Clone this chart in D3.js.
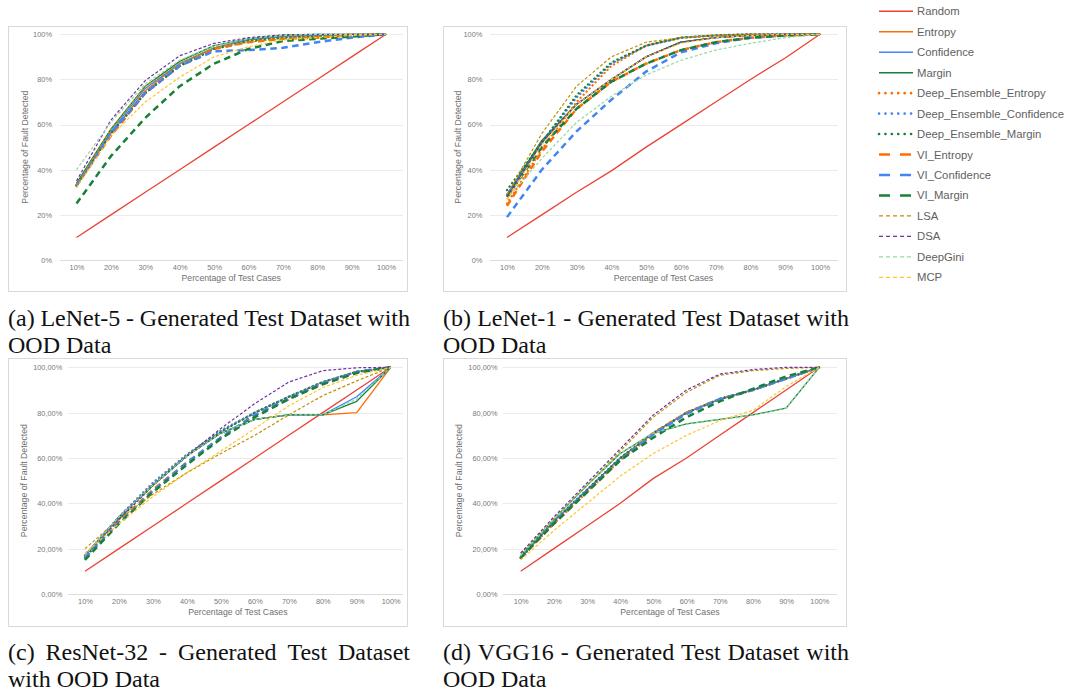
<!DOCTYPE html>
<html>
<head>
<meta charset="utf-8">
<script src="https://cdn.jsdelivr.net/npm/d3@7"></script>
<style>
  body { margin: 0; background: #fff; }
  svg { display: block; font-family: "Liberation Sans", Arial, sans-serif; }
</style>
</head>
<body>
<svg id="fig" width="1073" height="692"></svg>
<script>
// ---- data ----
const categories = ["10%", "20%", "30%", "40%", "50%", "60%", "70%", "80%", "90%", "100%"];
const seriesNames = ["Random", "Entropy", "Confidence", "Margin",
  "Deep_Ensemble_Entropy", "Deep_Ensemble_Confidence", "Deep_Ensemble_Margin",
  "VI_Entropy", "VI_Confidence", "VI_Margin", "LSA", "DSA", "DeepGini", "MCP"];
const yTickValues = [0, 20, 40, 60, 80, 100];
const pctTicks = ["0%", "20%", "40%", "60%", "80%", "100%"];
const pctCommaTicks = ["0,00%", "20,00%", "40,00%", "60,00%", "80,00%", "100,00%"];

// one row per series, same order as seriesNames
const lenet5 = [
  [10, 20, 30, 40, 50, 60, 70, 80, 90, 100],
  [33, 56, 75, 87, 94, 97.5, 99, 99.5, 100, 100],
  [33, 57, 76, 87, 94, 97.5, 99, 99.5, 100, 100],
  [34, 58, 77, 88, 95, 98, 99.5, 100, 100, 100],
  [33, 56, 74, 86, 93.5, 97, 98.5, 99, 99.5, 100],
  [33, 56, 74, 86, 93.5, 97, 98.5, 99, 99.5, 100],
  [33, 56, 74, 86, 93.5, 97, 98.5, 99, 99.5, 100],
  [33, 55, 74, 86, 93.5, 96.5, 98, 98.5, 99.5, 100],
  [33, 56, 74, 86, 92.5, 93, 94, 96.5, 98.5, 100],
  [25, 46, 63, 77, 87, 93.5, 97, 98, 99, 100],
  [33, 58, 77, 87, 94, 96.5, 98, 99, 99.5, 100],
  [35, 62, 79.5, 90.5, 96, 98.5, 99.8, 100, 100, 100],
  [40, 61, 78, 88.5, 95, 98, 99.5, 100, 100, 100],
  [32, 55, 70, 81, 90, 94.5, 97.5, 98.5, 99.5, 100]
];
const lenet1 = [
  [10, 20, 30, 39.5, 50, 60, 70, 80, 89.5, 100],
  [27, 52, 69, 80, 90, 96.5, 98.5, 99.5, 100, 100],
  [28, 52, 69, 80, 90, 96.5, 98.5, 99.5, 100, 100],
  [29, 53, 69, 80, 90, 96.5, 98.5, 99.5, 100, 100],
  [25, 49, 70, 86, 95, 98.5, 99.5, 100, 100, 100],
  [29, 52, 72, 87, 95, 98.5, 99.5, 100, 100, 100],
  [31, 52, 73, 87.5, 95, 98.5, 99.5, 100, 100, 100],
  [24, 48, 67, 79, 87, 93, 96.5, 98.5, 99.5, 100],
  [19, 40, 57, 71, 83.5, 92, 96, 98.5, 99.5, 100],
  [28, 50, 67, 79, 87, 93, 96.5, 98.5, 99.5, 100],
  [29, 56, 77, 90, 96.5, 98.5, 99.5, 100, 100, 100],
  [28, 52, 69, 80, 90, 96.5, 98.5, 99.5, 100, 100],
  [27, 45, 61, 72.5, 82, 88.5, 93, 96, 98.5, 100],
  [27, 51, 69, 80, 90, 96, 98.5, 99.5, 100, 100]
];
const resnet32 = [
  [10, 20, 30, 40, 50, 60, 70, 80, 90, 100],
  [17, 34, 48, 61, 71, 77, 79, 79, 80, 100],
  [17, 34, 48, 61, 71, 77, 79, 79, 87, 100],
  [17, 34, 48, 61, 71, 77, 79, 79, 85, 100],
  [17, 34, 49, 61.5, 72, 80, 87, 93.5, 98, 100],
  [17, 34, 49, 61.5, 72, 80, 87, 93.5, 98, 100],
  [16, 33, 48, 61, 71.5, 80, 87, 93.5, 98, 100],
  [16, 32, 46, 58, 69, 79, 86, 93, 98, 100],
  [16, 31.5, 45.5, 58, 69, 79, 86, 93, 98, 100],
  [15, 31, 45, 57, 68.5, 78, 86, 92.5, 97.5, 100],
  [20, 33, 44, 53.5, 62, 70, 79, 87.5, 94, 100],
  [17, 33, 48, 61, 73, 84, 93.5, 98.5, 99.8, 100],
  [17, 34, 48, 61, 71, 77, 79, 79, 86, 100],
  [18, 31, 43, 53.5, 63, 73, 83, 91, 96.5, 100]
];
const vgg16 = [
  [10, 20, 30, 40, 51, 60, 70, 80, 90, 100],
  [16, 32, 46, 60, 71, 80, 86, 90, 95, 100],
  [16, 32, 46, 60, 71, 80, 86, 90, 95, 100],
  [17, 33, 48, 62, 71, 75, 77, 79, 82, 100],
  [16, 31, 45, 59, 70.5, 80, 86, 90, 95, 100],
  [16, 32, 46, 60, 71, 80, 86, 90, 95, 100],
  [16, 32, 46, 60, 71, 80, 86, 90, 95, 100],
  [16, 31, 45, 59, 71, 80, 86, 90, 95, 100],
  [16, 31.5, 45.5, 59, 70.5, 79.5, 86, 90, 95, 100],
  [16, 31, 45, 59, 69, 78, 85, 90.5, 96, 100],
  [18, 33, 48, 63, 78, 89, 96.5, 98.5, 99.5, 100],
  [18, 34, 49, 64, 79, 90, 97, 99, 100, 100],
  [17, 33, 48, 62, 71, 75, 77, 79, 82, 100],
  [15, 28, 40, 52, 62, 70, 76.5, 81, 91.5, 100]
];

const captionA = ["(a) LeNet-5 - Generated Test Dataset with", "OOD Data"];
const captionB = ["(b) LeNet-1 - Generated Test Dataset with", "OOD Data"];
const captionC = ["(c) ResNet-32 - Generated Test Dataset", "with OOD Data"];
const captionD = ["(d) VGG16 - Generated Test Dataset with", "OOD Data"];

// ---- styles ----
const colors = ["#ea4335", "#ff6d01", "#4285f4", "#188038",
  "#ff6d01", "#4285f4", "#188038",
  "#ff6d01", "#4285f4", "#188038",
  "#bf9000", "#7030a0", "#93d9a3", "#ffc52e"];
const kinds = ["solid", "solid", "solid", "solid", "dot", "dot", "dot",
  "long", "long", "long", "short", "short", "short", "short"];
const plotStroke = {
  solid: { w: 1.3, dash: null, cap: "butt" },
  dot: { w: 2.3, dash: "0.1 4.2", cap: "round" },
  long: { w: 2.5, dash: "6.5 4.5", cap: "butt" },
  short: { w: 1.2, dash: "3 2", cap: "butt" }
};
const legendStroke = {
  solid: { w: 1.6, dash: null, cap: "butt" },
  dot: { w: 2.6, dash: "0.1 6.3", cap: "round" },
  long: { w: 2.6, dash: "11 10", cap: "butt" },
  short: { w: 1.3, dash: "4 3", cap: "butt" }
};

const panels = [
  { values: lenet5, ticks: pctTicks, caption: captionA, box: [8, 26, 407, 291],
    px: [76.5, 386], gx: [60, 403], py: [260, 34.3], labelGap: 8, titleX: 25, capY: 326 },
  { values: lenet1, ticks: pctTicks, caption: captionB, box: [443, 26, 846, 291],
    px: [507, 820], gx: [490, 838], py: [260, 34.3], labelGap: 7.7, titleX: 458, capY: 326 },
  { values: resnet32, ticks: pctCommaTicks, caption: captionC, box: [8, 358, 407, 626],
    px: [85, 390.7], gx: [68, 403], py: [594, 367.3], labelGap: 5.7, titleX: 24, capY: 660 },
  { values: vgg16, ticks: pctCommaTicks, caption: captionD, box: [443, 358, 846, 626],
    px: [520.7, 819.3], gx: [503, 837], py: [594, 367.3], labelGap: 5.5, titleX: 459, capY: 660 }
];

const svg = d3.select("#fig");

function applyStroke(sel, st) {
  sel.attr("stroke-width", st.w)
    .attr("stroke-linecap", st.cap)
    .attr("stroke-dasharray", st.dash);
}

panels.forEach((p) => {
  const g = svg.append("g");
  const [bx0, by0, bx1, by1] = p.box;

  g.append("rect")
    .attr("x", bx0 + 0.5).attr("y", by0 + 0.5)
    .attr("width", bx1 - bx0).attr("height", by1 - by0)
    .attr("fill", "#fff").attr("stroke", "#d9d9d9");

  const x = d3.scalePoint().domain(categories).range(p.px);
  const y = d3.scaleLinear().domain([0, 100]).range(p.py);

  // gridlines
  g.append("g").selectAll("line").data(yTickValues).join("line")
    .attr("x1", p.gx[0]).attr("x2", p.gx[1])
    .attr("y1", d => Math.round(y(d)) + 0.5).attr("y2", d => Math.round(y(d)) + 0.5)
    .attr("stroke", d => d === 0 ? "#dcdcdc" : "#ebebeb");

  // y axis
  g.append("g")
    .attr("transform", `translate(${p.gx[0]},0)`)
    .call(d3.axisLeft(y).tickValues(yTickValues)
      .tickFormat((d, i) => p.ticks[i]).tickSize(0).tickPadding(p.labelGap))
    .call(a => a.select(".domain").remove())
    .call(a => a.selectAll("text").attr("fill", "#7a7a7a")
      .style("font-size", "7.4px").style("font-family", "'Liberation Sans', Arial, sans-serif"));

  // x axis
  g.append("g")
    .attr("transform", `translate(0,${p.py[0]})`)
    .call(d3.axisBottom(x).tickSize(0).tickPadding(5))
    .call(a => a.select(".domain").remove())
    .call(a => a.selectAll("text").attr("fill", "#7a7a7a")
      .style("font-size", "7.4px").style("font-family", "'Liberation Sans', Arial, sans-serif"));

  // axis titles
  g.append("text")
    .attr("x", (p.px[0] + p.px[1]) / 2).attr("y", p.py[0] + 21)
    .attr("text-anchor", "middle").attr("fill", "#6f6f6f")
    .style("font-size", "8.7px").text("Percentage of Test Cases");
  g.append("text")
    .attr("transform", `translate(${p.titleX + 3},${(p.py[0] + p.py[1]) / 2}) rotate(-90)`)
    .attr("text-anchor", "middle").attr("fill", "#6f6f6f")
    .style("font-size", "8.7px").text("Percentage of Fault Detected");

  // series
  const line = d3.line().x((d, i) => x(categories[i])).y(d => y(d));
  p.values.forEach((vals, s) => {
    g.append("path")
      .datum(vals)
      .attr("fill", "none")
      .attr("stroke", colors[s])
      .attr("stroke-linejoin", "round")
      .attr("d", line)
      .call(applyStroke, plotStroke[kinds[s]]);
  });

  // caption, first line justified over the box width
  const capX0 = bx0, capX1 = bx1 + 3;
  const words = p.caption[0].split(" ");
  const cap = g.append("g").style("font-family", "'Liberation Serif', 'Times New Roman', serif")
    .style("font-size", "24px").attr("fill", "#111");
  const nodes = words.map(w => cap.append("text").attr("y", p.capY).text(w));
  const widths = nodes.map(n => n.node().getComputedTextLength());
  const gap = (capX1 - capX0 - d3.sum(widths)) / (words.length - 1);
  let cx = capX0;
  nodes.forEach((n, i) => { n.attr("x", cx); cx += widths[i] + gap; });
  cap.append("text").attr("x", capX0).attr("y", p.capY + 27).text(p.caption[1]);
});

// legend
const legend = svg.append("g").attr("transform", "translate(879,11.3)");
seriesNames.forEach((name, s) => {
  const row = legend.append("g").attr("transform", `translate(0,${s * 20.46})`);
  row.append("line")
    .attr("x1", 0).attr("x2", 34).attr("y1", 0).attr("y2", 0)
    .attr("stroke", colors[s])
    .call(applyStroke, legendStroke[kinds[s]]);
  row.append("text")
    .attr("x", 38).attr("y", 4)
    .attr("fill", "#5f5f5f")
    .style("font-size", "11.3px")
    .text(name);
});
</script>
</body>
</html>
